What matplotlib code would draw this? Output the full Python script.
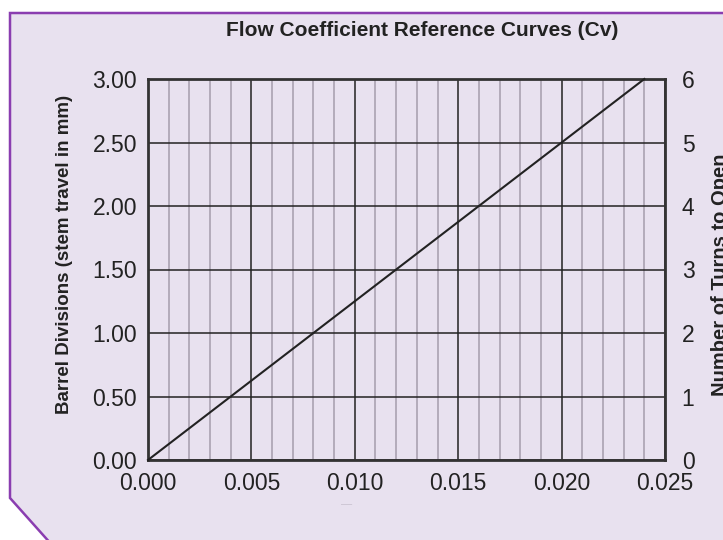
import numpy as np
import matplotlib
matplotlib.use('Agg')
import matplotlib.pyplot as plt
from matplotlib.patches import Polygon
from matplotlib.ticker import MultipleLocator

plt.rcParams['font.family'] = ['Liberation Sans', 'DejaVu Sans']

# ── 数据 ──────────────────────────────────────────────
cv_values = [0.0, 0.024]          # x: 流量系数
barrel_div = [0.0, 3.0]           # y: 刻度 (mm)
x_ticks = [0.000, 0.005, 0.010, 0.015, 0.020, 0.025]
left_ticks = [0.0, 0.5, 1.0, 1.5, 2.0, 2.5, 3.0]
right_ticks = [0, 1, 2, 3, 4, 5, 6]

BG = '#E8E1EF'
EDGE = '#8A3DB0'
DARK = '#222222'

W, H = 723, 540
fig = plt.figure(figsize=(7.23, 5.40), dpi=100)
fig.patch.set_facecolor('white')

# 背景多边形（左下角切角）
bg = fig.add_axes([0, 0, 1, 1], zorder=-1)
bg.set_xlim(0, W)
bg.set_ylim(H, 0)
bg.axis('off')
pts = [(10, 13), (740, 13), (740, 545), (52, 545), (10, 498)]
bg.add_patch(Polygon(pts, closed=True, facecolor=BG, edgecolor=EDGE,
                     linewidth=1.8))

ax = fig.add_axes([148 / W, 1 - 460 / H, (665 - 148) / W, (460 - 79) / H])
ax.set_facecolor(BG)

ax.plot(cv_values, barrel_div, color=DARK, linewidth=1.5, zorder=3,
        clip_on=False)

ax.set_xlim(0, 0.025)
ax.set_ylim(0, 3.0)
ax.set_xticks(x_ticks)
ax.set_xticklabels([f'{v:.3f}' for v in x_ticks], fontsize=16.5, color='#222')
ax.xaxis.set_minor_locator(MultipleLocator(0.001))
ax.set_yticks(left_ticks)
ax.set_yticklabels([f'{v:.2f}' for v in left_ticks], fontsize=16.5, color='#222')

ax.set_axisbelow(True)
ax.grid(which='major', axis='both', color=DARK, linewidth=1.1)
ax.grid(which='minor', axis='x', color='#B3ABBA', linewidth=1.4)
ax.tick_params(which='both', length=0)
ax.tick_params(axis='x', pad=9)
ax.tick_params(axis='y', pad=8)
for s in ax.spines.values():
    s.set_color('#333333')
    s.set_linewidth(2)

ax.set_ylabel('Barrel Divisions (stem travel in mm)', fontsize=13.5,
              fontweight='bold', color='#222', va='center')
ax.yaxis.set_label_coords(-0.162, 0.54)

ax2 = ax.twinx()
ax2.set_ylim(0, 6)
ax2.set_yticks(right_ticks)
ax2.set_yticklabels([str(v) for v in right_ticks], fontsize=16.5, color='#222')
ax2.tick_params(length=0, pad=12)
for s in ax2.spines.values():
    s.set_visible(False)
ax2.set_ylabel('Number of Turns to Open', fontsize=14.5, fontweight='bold',
               color='#222', rotation=90, va='center', ha='center')
ax2.yaxis.set_label_coords((720 - 148) / 517, (460 - 275) / 381)

fig.text(422 / W, 1 - 30 / H, 'Flow Coefficient Reference Curves (Cv)',
         ha='center', va='center', fontsize=15, fontweight='bold', color='#222')
fig.text(347 / W, 1 - 504 / H, '—', ha='center', va='center',
         fontsize=8, color='#C8C0CE')

fig.savefig('out.png', dpi=100, facecolor=fig.get_facecolor())
